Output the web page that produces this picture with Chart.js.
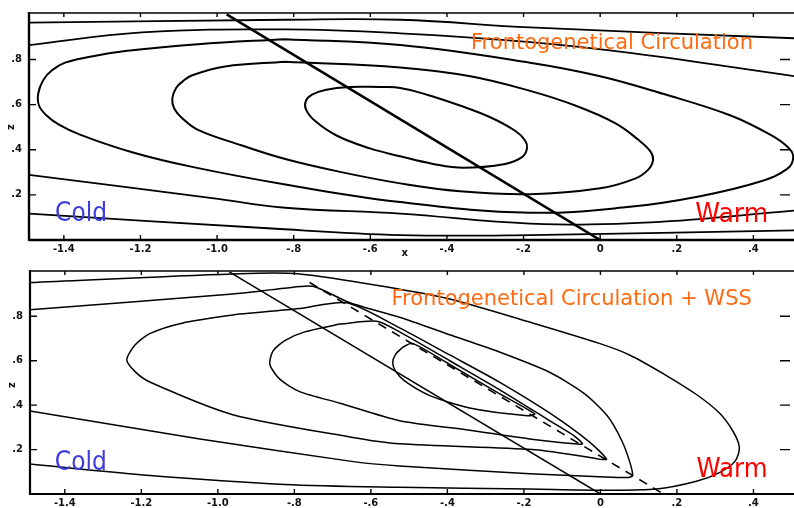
<!DOCTYPE html>
<html><head><meta charset="utf-8">
<script src="https://cdn.jsdelivr.net/npm/chart.js@4.4.1/dist/chart.umd.min.js"></script>
<style>
html,body{margin:0;padding:0;background:#fff;width:794px;height:508px;overflow:hidden}
#c1{position:absolute;left:0;top:0}
#c2{position:absolute;left:0;top:258px}
</style></head><body>
<canvas id="c1" width="794" height="258"></canvas>
<canvas id="c2" width="794" height="250"></canvas>
<script>
// ---- axis ticks ----
const xTickValues = [-1.4,-1.2,-1.0,-0.8,-0.6,-0.4,-0.2,0,0.2,0.4];
const xTickLabels = ['-1.4','-1.2','-1.0','-.8','-.6','-.4','-.2','0','.2','.4'];
const zTickValues = [0.2,0.4,0.6,0.8];
const zTickLabels = ['.2','.4','.6','.8'];

// ---- top panel: Frontogenetical Circulation (x, z) ----
const topDiag = [[-0.975,1.0],[0,0]];
const topP1 = [[-1.491,0.963],[-0.822,0.976],[-0.522,0.976],[-0.183,0.942],[0.507,0.894]];
const topP2 = [[-1.491,0.864],[-1.196,0.920],[-0.822,0.933],[-0.522,0.916],[-0.183,0.877],[0.078,0.829],[0.507,0.726]];
const topE3 = [[-0.822,0.890],[-0.522,0.864],[-0.183,0.786],[0.000,0.726],[0.164,0.648],[0.339,0.553],[0.444,0.467],[0.491,0.410],[0.504,0.367],[0.488,0.315],[0.418,0.259],[0.261,0.194],[0.078,0.147],[-0.183,0.121],[-0.522,0.168],[-0.822,0.246],[-1.065,0.324],[-1.222,0.389],[-1.358,0.467],[-1.415,0.514],[-1.446,0.553],[-1.465,0.596],[-1.467,0.648],[-1.454,0.708],[-1.431,0.752],[-1.397,0.786],[-1.332,0.812],[-1.240,0.838],[-1.050,0.868],[-0.822,0.890]];
const topE2 = [[-0.822,0.790],[-0.522,0.765],[-0.339,0.726],[-0.183,0.661],[-0.065,0.596],[0.039,0.518],[0.099,0.445],[0.131,0.393],[0.138,0.354],[0.125,0.311],[0.091,0.272],[0.000,0.229],[-0.183,0.203],[-0.366,0.216],[-0.522,0.251],[-0.679,0.302],[-0.822,0.359],[-0.935,0.419],[-1.050,0.488],[-1.091,0.540],[-1.112,0.583],[-1.117,0.626],[-1.107,0.674],[-1.089,0.704],[-1.065,0.730],[-0.979,0.769],[-0.822,0.790]];
const topE1 = [[-0.574,0.678],[-0.522,0.674],[-0.452,0.644],[-0.366,0.596],[-0.287,0.544],[-0.222,0.484],[-0.196,0.441],[-0.191,0.406],[-0.204,0.367],[-0.248,0.337],[-0.358,0.320],[-0.436,0.337],[-0.522,0.371],[-0.601,0.406],[-0.687,0.462],[-0.744,0.527],[-0.768,0.579],[-0.768,0.618],[-0.752,0.644],[-0.718,0.665],[-0.653,0.678],[-0.574,0.678]];
const topP3 = [[-1.491,0.289],[-1.013,0.186],[-0.822,0.143],[-0.522,0.117],[-0.183,0.073],[0.131,0.078],[0.507,0.130]];
const topP4 = [[-1.491,0.117],[-0.867,0.052],[-0.522,0.022],[-0.183,0.022],[0.507,0.043]];

// ---- bottom panel: Frontogenetical Circulation + WSS (x, z) ----
const botDiag = [[-0.970,1.0],[0,0]];
const botFront = [[-0.760,0.952],[0.165,0]];
const botO = [[-1.491,0.952],[-0.961,0.991],[-0.786,0.991],[-0.525,0.922],[-0.394,0.878],[-0.185,0.774],[-0.003,0.678],[0.076,0.626],[0.167,0.539],[0.251,0.448],[0.311,0.365],[0.345,0.287],[0.363,0.213],[0.352,0.148],[0.311,0.096],[0.251,0.057],[0.146,0.022],[-0.003,0.017],[-0.185,0.022],[-0.525,0.030],[-0.825,0.043],[-1.178,0.083],[-1.491,0.135]];
const botQ = [[-1.491,0.830],[-0.961,0.900],[-0.825,0.926],[-0.752,0.935],[-0.655,0.861],[-0.525,0.796],[-0.394,0.717],[-0.264,0.639],[-0.133,0.548],[-0.042,0.452],[0.018,0.352],[0.055,0.243],[0.076,0.148],[0.084,0.083],[0.070,0.074],[-0.003,0.078],[-0.185,0.091],[-0.525,0.126],[-0.655,0.148],[-1.047,0.248],[-1.491,0.374]];
const botL3 = [[-0.950,0.809],[-0.786,0.835],[-0.663,0.861],[-0.525,0.748],[-0.394,0.626],[-0.264,0.504],[-0.133,0.365],[-0.029,0.235],[0.016,0.157],[-0.003,0.157],[-0.047,0.170],[-0.178,0.200],[-0.525,0.226],[-0.655,0.257],[-0.961,0.357],[-1.178,0.504],[-1.217,0.552],[-1.238,0.604],[-1.217,0.670],[-1.178,0.722],[-1.091,0.770],[-0.950,0.809]];
const botL2 = [[-0.681,0.765],[-0.585,0.778],[-0.525,0.730],[-0.394,0.600],[-0.264,0.470],[-0.133,0.330],[-0.068,0.261],[-0.047,0.226],[-0.068,0.226],[-0.185,0.248],[-0.342,0.287],[-0.525,0.330],[-0.681,0.409],[-0.786,0.461],[-0.838,0.517],[-0.864,0.583],[-0.856,0.643],[-0.825,0.691],[-0.773,0.730],[-0.681,0.765]];
const botL1 = [[-0.517,0.661],[-0.491,0.678],[-0.394,0.583],[-0.264,0.452],[-0.172,0.361],[-0.191,0.352],[-0.342,0.387],[-0.446,0.443],[-0.512,0.509],[-0.535,0.552],[-0.543,0.591],[-0.535,0.630],[-0.517,0.661]];

const X_MIN = -1.491, X_MAX = 0.506;

function pts(a){ return a.map(p=>({x:p[0], y:p[1]})); }
function ds(a, w, tension, dash){
  return {data:pts(a), showLine:true, pointRadius:0, borderColor:'#000', backgroundColor:'#000',
          borderWidth:w, tension:tension, borderDash:dash||[], fill:false};
}

const framePlugin = {
  id:'frame',
  afterDatasetsDraw(chart, args, o){
    const ctx = chart.ctx, a = chart.chartArea, xs = chart.scales.x, ys = chart.scales.y;
    ctx.save();
    ctx.strokeStyle = '#000';
    ctx.lineCap = 'butt';
    ctx.lineWidth = o.axisW;
    ctx.beginPath(); ctx.moveTo(a.left, a.top-1); ctx.lineTo(a.left, a.bottom+1); ctx.stroke();
    ctx.beginPath(); ctx.moveTo(a.left, a.bottom); ctx.lineTo(a.right, a.bottom); ctx.stroke();
    ctx.lineWidth = o.topW;
    ctx.beginPath(); ctx.moveTo(a.left, a.top); ctx.lineTo(a.right, a.top); ctx.stroke();
    ctx.lineWidth = 1.4;
    xTickValues.forEach(v=>{
      const px = xs.getPixelForValue(v);
      ctx.beginPath(); ctx.moveTo(px, a.bottom); ctx.lineTo(px, a.bottom-5);
      ctx.moveTo(px, a.top); ctx.lineTo(px, a.top+4); ctx.stroke();
    });
    zTickValues.forEach(v=>{
      const py = ys.getPixelForValue(v);
      ctx.beginPath(); ctx.moveTo(a.left, py); ctx.lineTo(a.left+7, py);
      ctx.moveTo(a.right-4, py); ctx.lineTo(a.right-14, py); ctx.stroke();
    });
    // axis letters
    ctx.fillStyle = '#111';
    ctx.font = 'bold 10px "DejaVu Sans"';
    ctx.textAlign = 'center'; ctx.textBaseline = 'middle';
    if (o.xLabel !== null) ctx.fillText('x', xs.getPixelForValue(o.xLabel), a.bottom + 13);
    ctx.save();
    ctx.translate(a.left - 18, ys.getPixelForValue(o.zLabel));
    ctx.rotate(-Math.PI/2);
    ctx.fillText('z', 0, 0);
    ctx.restore();
    // annotations
    ctx.textAlign = 'left'; ctx.textBaseline = 'alphabetic';
    o.texts.forEach(t=>{
      ctx.font = t.font; ctx.fillStyle = t.color;
      ctx.fillText(t.text, xs.getPixelForValue(t.x), ys.getPixelForValue(t.y), t.w);
    });
    ctx.restore();
  }
};

function options(padTop, xAxisH, yMax, frame){
  return {
    responsive:false, animation:false, devicePixelRatio:1,
    layout:{padding:{top:padTop, left:0, right:0, bottom:0}},
    plugins:{legend:{display:false}, tooltip:{enabled:false}, frame:frame},
    scales:{
      x:{type:'linear', min:X_MIN, max:X_MAX,
         afterFit(s){ s.height = xAxisH; },
         afterBuildTicks(s){ s.ticks = xTickValues.map(v=>({value:v})); },
         ticks:{callback:(v,i)=>xTickLabels[i], autoSkip:false, maxRotation:0, padding:3,
                color:'#111', font:{family:'DejaVu Sans', size:10, weight:'bold'}},
         grid:{display:false, drawTicks:false}, border:{display:false}},
      y:{type:'linear', min:0, max:yMax,
         afterFit(s){ s.width = frame.yAxisW; },
         afterBuildTicks(s){ s.ticks = zTickValues.map(v=>({value:v})); },
         ticks:{callback:(v,i)=>zTickLabels[i], autoSkip:false, padding:7,
                color:'#111', font:{family:'DejaVu Sans', size:10, weight:'bold'}},
         grid:{display:false, drawTicks:false}, border:{display:false}}
    }
  };
}

const orange = '#FF6A10', blue = '#3C3CD8', red = '#FF0000';
const comic = '"DejaVu Sans"';

new Chart(document.getElementById('c1'), {
  type:'scatter',
  data:{datasets:[
    ds(topP1,1.8,0.4), ds(topP2,1.8,0.4), ds(topE3,2,0.4), ds(topE2,2,0.4), ds(topE1,2,0.4),
    ds(topP3,1.8,0.4), ds(topP4,1.8,0.4), ds(topDiag,2.6,0)
  ]},
  options: options(7, 18, 1.006, {
    yAxisW:29, axisW:2.4, topW:1.6, xLabel:-0.51, zLabel:0.5,
    texts:[
      {text:'Frontogenetical Circulation', x:-0.337, y:0.845, font:'21px '+comic, color:orange, w:302},
      {text:'Cold', x:-1.423, y:0.082, font:'26px '+comic, color:blue, w:52},
      {text:'Warm', x:0.248, y:0.078, font:'27px '+comic, color:red, w:73}
    ]}),
  plugins:[framePlugin]
});

new Chart(document.getElementById('c2'), {
  type:'scatter',
  data:{datasets:[
    ds(botO,1.5,0.3), ds(botQ,1.5,0.25), ds(botL3,1.5,0.25), ds(botL2,1.5,0.25), ds(botL1,1.5,0.25),
    ds(botDiag,1.5,0), ds(botFront,1.6,0,[9,7])
  ]},
  options: options(5, 14, 1.004, {
    yAxisW:30, axisW:2.2, topW:1.6, xLabel:null, zLabel:0.49,
    texts:[
      {text:'Frontogenetical Circulation + WSS', x:-0.546, y:0.852, font:'21px '+comic, color:orange, w:385},
      {text:'Cold', x:-1.426, y:0.109, font:'26px '+comic, color:blue, w:52},
      {text:'Warm', x:0.251, y:0.078, font:'27px '+comic, color:red, w:71}
    ]}),
  plugins:[framePlugin]
});
</script>
</body></html>
